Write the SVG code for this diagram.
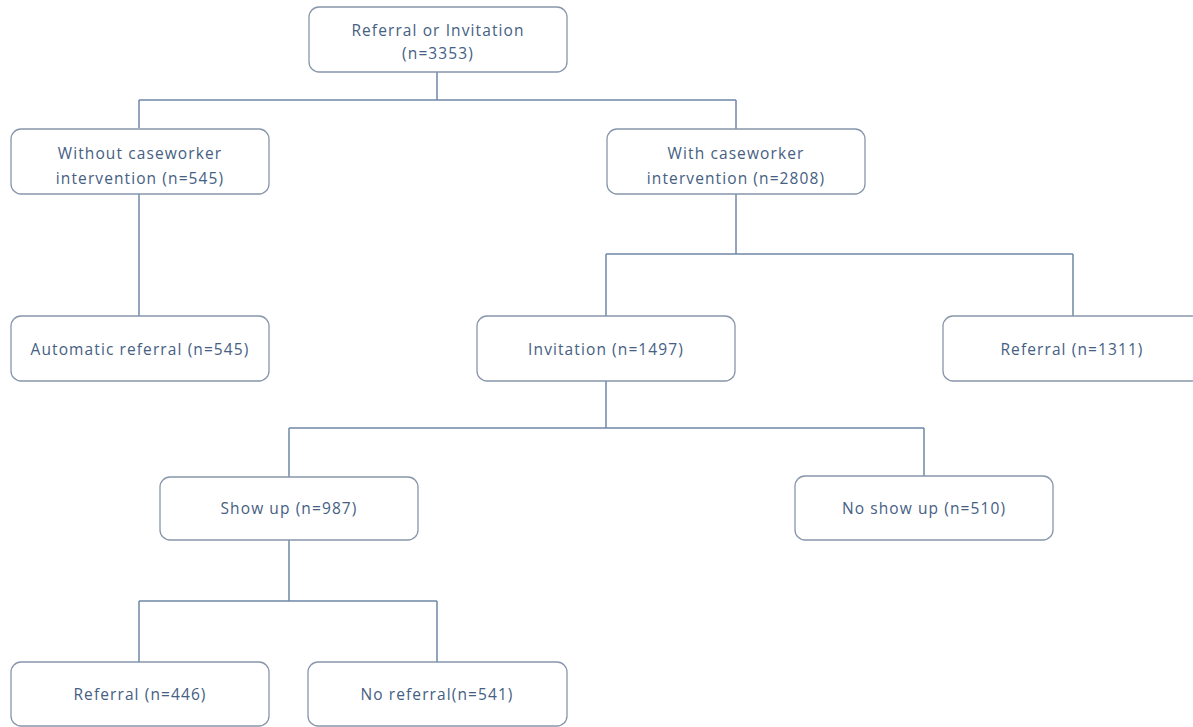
<svg xmlns="http://www.w3.org/2000/svg" width="1193" height="727" viewBox="0 0 1193 727">
<style>
.box{fill:#ffffff;stroke:#8796ab;stroke-width:1.3}
.t{font-family:"Open Sans","Liberation Sans",sans-serif;font-size:15.5px;letter-spacing:1.1px;fill:#456082;text-anchor:middle}
.c{fill:none;stroke:#7088a8;stroke-width:1.5}
</style>
<rect width="1193" height="727" fill="#ffffff"/>
<g id="connectors">
<path class="c" d="M437 72V100M139 100H736M139 100V128M736 100V129"/>
<path class="c" d="M139 194V316"/>
<path class="c" d="M736 194V254M606 254H1073M606 254V316M1073 254V316"/>
<path class="c" d="M606 381V428M289 428H924M289 428V477M924 428V476"/>
<path class="c" d="M289 540V601M139 601H437M139 601V662M437 601V662"/>
</g>
<g id="root"><rect class="box" x="309" y="7" width="258" height="65" rx="10"/>
<text class="t" x="438" y="36">Referral or Invitation</text><text class="t" x="438" y="59">(n=3353)</text></g>
<g id="without"><rect class="box" x="11" y="129" width="258" height="65" rx="10"/>
<text class="t" x="140" y="159">Without caseworker</text><text class="t" x="140" y="184">intervention (n=545)</text></g>
<g id="with"><rect class="box" x="607" y="129" width="258" height="65" rx="10"/>
<text class="t" x="736" y="159">With caseworker</text><text class="t" x="736" y="184">intervention (n=2808)</text></g>
<g id="automatic"><rect class="box" x="11" y="316" width="258" height="65" rx="10"/>
<text class="t" x="140" y="355">Automatic referral (n=545)</text></g>
<g id="invitation"><rect class="box" x="477" y="316" width="258" height="65" rx="10"/>
<text class="t" x="606" y="355">Invitation (n=1497)</text></g>
<g id="referral1311"><rect class="box" x="943" y="316" width="258" height="65" rx="10"/>
<text class="t" x="1072" y="355">Referral (n=1311)</text></g>
<g id="showup"><rect class="box" x="160" y="477" width="258" height="63" rx="10"/>
<text class="t" x="289" y="514">Show up (n=987)</text></g>
<g id="noshowup"><rect class="box" x="795" y="476" width="258" height="64" rx="10"/>
<text class="t" x="924" y="514">No show up (n=510)</text></g>
<g id="referral446"><rect class="box" x="11" y="662" width="258" height="64" rx="10"/>
<text class="t" x="140" y="700">Referral (n=446)</text></g>
<g id="noreferral"><rect class="box" x="308" y="662" width="259" height="64" rx="10"/>
<text class="t" x="437" y="700">No referral(n=541)</text></g>
</svg>
